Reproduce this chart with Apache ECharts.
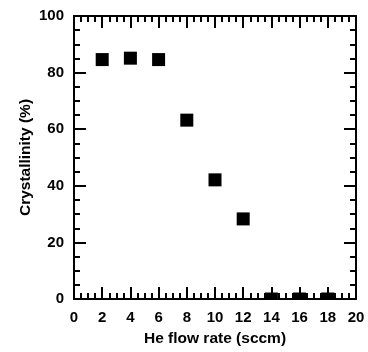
<!DOCTYPE html>
<html><head><meta charset="utf-8">
<script src="https://cdn.jsdelivr.net/npm/echarts@6/dist/echarts.min.js"></script>
<style>html,body{margin:0;padding:0;background:#fff;}#c{width:368px;height:352px;}</style>
</head><body><div id="c"></div>
<script>
var flowRates = [2, 4, 6, 8, 10, 12, 14, 16, 18];
var crystallinity = [84.6, 85.1, 84.6, 63.2, 42.1, 28.3, 0, 0, 0];
var xTitle = 'He flow rate (sccm)';
var yTitle = 'Crystallinity (%)';

var font = 'Liberation Sans, Arial, sans-serif';
var lineStyle = {color: '#000', width: 2};
var tickStyle = {color: '#000', width: 2};
function xAxisDef(pos, showLabel) {
  return {
    type: 'value', position: pos, min: 0, max: 20, interval: 2,
    axisLine: {show: true, onZero: false, lineStyle: lineStyle},
    axisTick: {show: true, inside: true, length: 12, lineStyle: tickStyle},
    minorTick: {show: true, splitNumber: 4, length: 6, lineStyle: tickStyle},
    splitLine: {show: false},
    axisLabel: {show: showLabel, color: '#000', fontFamily: font, fontWeight: 'bold', fontSize: 15, margin: 11},
    name: showLabel ? xTitle : '', nameLocation: 'middle', nameGap: 32, nameMoveOverlap: false,
    nameTextStyle: {color: '#000', fontFamily: font, fontWeight: 'bold', fontSize: 15.5}
  };
}
function yAxisDef(pos, showLabel) {
  return {
    type: 'value', position: pos, min: 0, max: 100, interval: 20,
    axisLine: {show: true, onZero: false, lineStyle: lineStyle},
    axisTick: {show: true, inside: true, length: 12, lineStyle: tickStyle},
    minorTick: {show: true, splitNumber: 4, length: 6, lineStyle: tickStyle},
    splitLine: {show: false},
    axisLabel: {show: showLabel, color: '#000', fontFamily: font, fontWeight: 'bold', fontSize: 15, margin: 10},
    name: showLabel ? yTitle : '', nameLocation: 'middle', nameGap: 40, nameRotate: 90, nameMoveOverlap: false,
    nameTextStyle: {color: '#000', fontFamily: font, fontWeight: 'bold', fontSize: 15.5}
  };
}
var chart = echarts.init(document.getElementById('c'));
chart.setOption({
  animation: false,
  backgroundColor: '#fff',
  grid: {left: 74, top: 16, right: 12, bottom: 53, containLabel: false},
  xAxis: [xAxisDef('bottom', true), xAxisDef('top', false)],
  yAxis: [yAxisDef('left', true), yAxisDef('right', false)],
  series: [{
    type: 'custom', xAxisIndex: 0, yAxisIndex: 0, clip: true,
    renderItem: function (params, api) {
      var p = api.coord([api.value(0), api.value(1)]);
      var s = 13;
      return {type: 'rect', shape: {x: p[0] - s / 2, y: p[1] - s / 2, width: s, height: s},
        style: {fill: '#000'}};
    },
    encode: {x: 0, y: 1},
    data: flowRates.map(function (x, i) { return [x, crystallinity[i]]; })
  }]
});
</script></body></html>
